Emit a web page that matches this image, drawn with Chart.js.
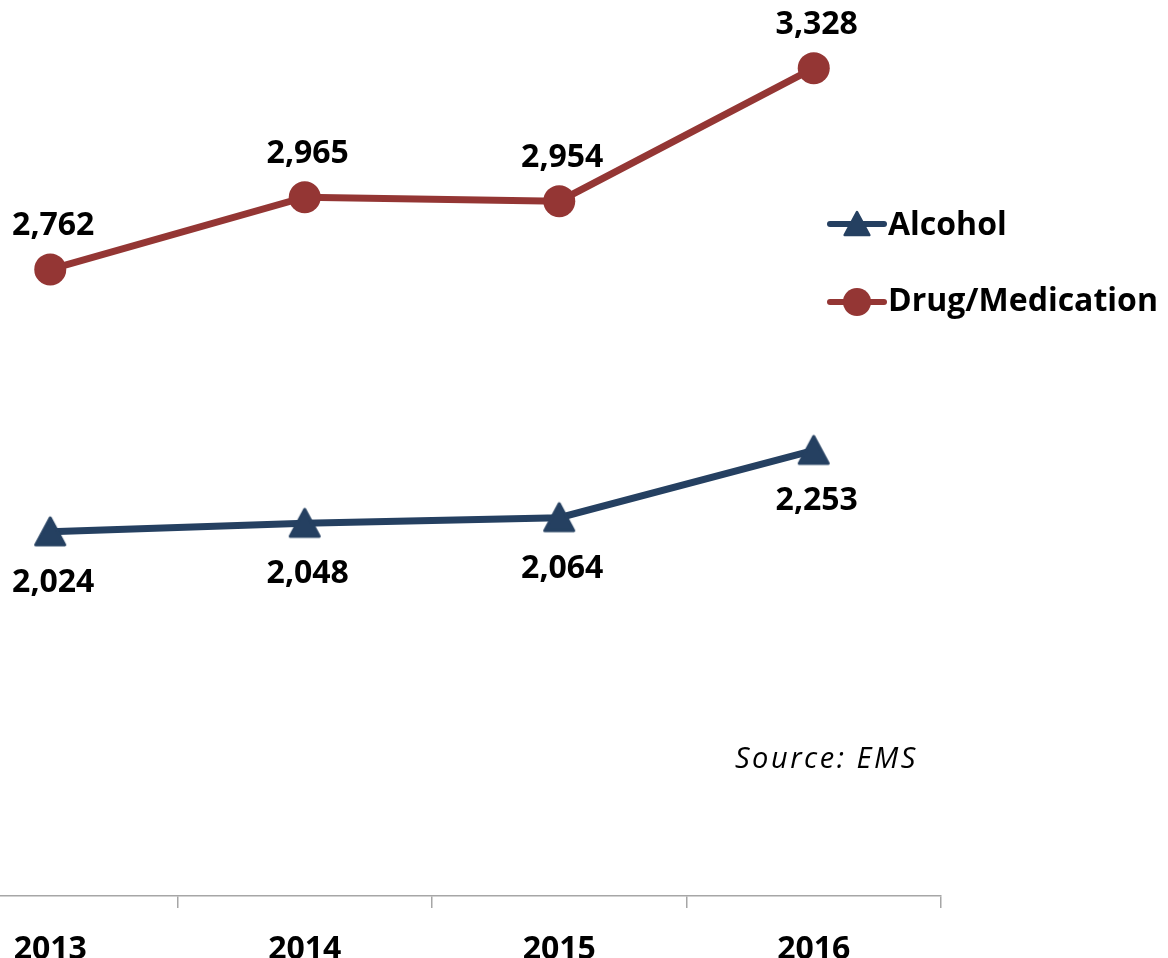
<!doctype html>
<html lang="en">
<head>
<meta charset="utf-8">
<title>Alcohol and Drug/Medication</title>
<script src="https://cdn.jsdelivr.net/npm/chart.js@4.4.0/dist/chart.umd.min.js"></script>
<style>
    html, body {
        margin: 0;
        padding: 0;
        background: #fff;
        overflow: hidden;
        width: 1168px;
        height: 958px;
    }
    #holder {
        position: absolute;
        left: -77px;
        top: 0;
        width: 1245px;
        height: 958px;
    }
</style>
</head>
<body>
<div id="holder">
    <canvas id="chart-area" width="1245" height="958"></canvas>
</div>
<script>
    var years = ['2013', '2014', '2015', '2016'];
    var alcohol = [2024, 2048, 2064, 2253];
    var drugs = [2762, 2965, 2954, 3328];

    var BLUE = '#254061';
    var RED = '#943634';
    var SHIFT = 77; // the plot starts left of the page edge
    var FONT = '"Open Sans", "DejaVu Sans", sans-serif';

    // triangle marker, centred on its bounding box
    function makeTriangle(scale) {
        var c = document.createElement('canvas');
        var s = Math.round(40 * scale);
        c.width = s;
        c.height = s;
        var g = c.getContext('2d');
        g.scale(scale, scale);
        g.beginPath();
        g.moveTo(20, 6);
        g.lineTo(34.5, 33);
        g.lineTo(5.5, 33);
        g.closePath();
        g.fillStyle = BLUE;
        g.strokeStyle = BLUE;
        g.lineWidth = 3;
        g.lineJoin = 'round';
        g.fill();
        g.stroke();
        return c;
    }
    var triangle = makeTriangle(1);
    var smallTriangle = makeTriangle(0.85);

    var valueLabels = {
        id: 'valueLabels',
        afterDatasetsDraw: function(chart) {
            var ctx = chart.ctx;
            ctx.save();
            ctx.font = 'bold 32px ' + FONT;
            ctx.fillStyle = '#000';
            ctx.textAlign = 'center';
            ctx.textBaseline = 'alphabetic';
            chart.data.datasets.forEach(function(ds, i) {
                var meta = chart.getDatasetMeta(i);
                meta.data.forEach(function(pt, j) {
                    var dy = ds.label === 'Alcohol' ? 60 : -34;
                    ctx.fillText(ds.data[j].toLocaleString('en-US'), pt.x + 3, pt.y + dy);
                });
            });
            ctx.restore();
        }
    };

    var sideLegend = {
        id: 'sideLegend',
        afterDraw: function(chart) {
            var ctx = chart.ctx;
            ctx.save();
            var rows = [
                { label: chart.data.datasets[0].label, color: BLUE, y: 224, base: 235, mark: 'tri' },
                { label: chart.data.datasets[1].label, color: RED, y: 302, base: 311, mark: 'dot' }
            ];
            rows.forEach(function(r) {
                ctx.strokeStyle = r.color;
                ctx.lineWidth = 6;
                ctx.lineCap = 'round';
                ctx.beginPath();
                ctx.moveTo(830 + SHIFT, r.y);
                ctx.lineTo(884 + SHIFT, r.y);
                ctx.stroke();
                if (r.mark === 'tri') {
                    ctx.drawImage(smallTriangle, 857 + SHIFT - smallTriangle.width / 2, r.y - smallTriangle.height / 2);
                } else {
                    ctx.fillStyle = r.color;
                    ctx.beginPath();
                    ctx.arc(857 + SHIFT, r.y, 14, 0, Math.PI * 2);
                    ctx.fill();
                }
                ctx.fillStyle = '#000';
                ctx.font = 'bold 32px ' + FONT;
                ctx.textAlign = 'left';
                ctx.textBaseline = 'alphabetic';
                ctx.fillText(r.label, 888 + SHIFT, r.base);
            });

            ctx.font = 'italic 29px ' + FONT;
            if ('letterSpacing' in ctx) ctx.letterSpacing = '2.5px';
            ctx.fillText('Source: EMS', 735 + SHIFT, 768);
            ctx.restore();
        }
    };

    var config = {
        type: 'line',
        data: {
            labels: years,
            datasets: [{
                label: 'Alcohol',
                data: alcohol,
                borderColor: BLUE,
                backgroundColor: BLUE,
                borderWidth: 7,
                pointStyle: triangle,
                pointRadius: 18,
                pointHoverRadius: 18,
                tension: 0
            }, {
                label: 'Drug/Medication',
                data: drugs,
                borderColor: RED,
                backgroundColor: RED,
                borderWidth: 7,
                pointStyle: 'circle',
                pointRadius: 16,
                pointHoverRadius: 16,
                pointBorderWidth: 0,
                tension: 0
            }]
        },
        options: {
            responsive: false,
            animation: false,
            events: [],
            layout: {
                autoPadding: false,
                padding: { left: 0, right: 227, top: 7, bottom: 0 }
            },
            plugins: {
                legend: { display: false },
                tooltip: { enabled: false }
            },
            scales: {
                x: {
                    offset: true,
                    grid: {
                        offset: true,
                        drawOnChartArea: false,
                        color: '#a6a6a6',
                        lineWidth: 1.5,
                        tickLength: 12
                    },
                    border: { display: true, color: '#a6a6a6', width: 1.5 },
                    ticks: {
                        color: '#000',
                        padding: 23,
                        font: { family: FONT, size: 32, weight: 'bold' }
                    },
                    afterFit: function(scale) {
                        scale.height = 62;
                    }
                },
                y: {
                    display: false,
                    min: 1000,
                    max: 3500
                }
            }
        },
        plugins: [valueLabels, sideLegend]
    };

    window.onload = function() {
        var ctx = document.getElementById('chart-area').getContext('2d');
        window.myLine = new Chart(ctx, config);
    };
</script>
</body>
</html>
